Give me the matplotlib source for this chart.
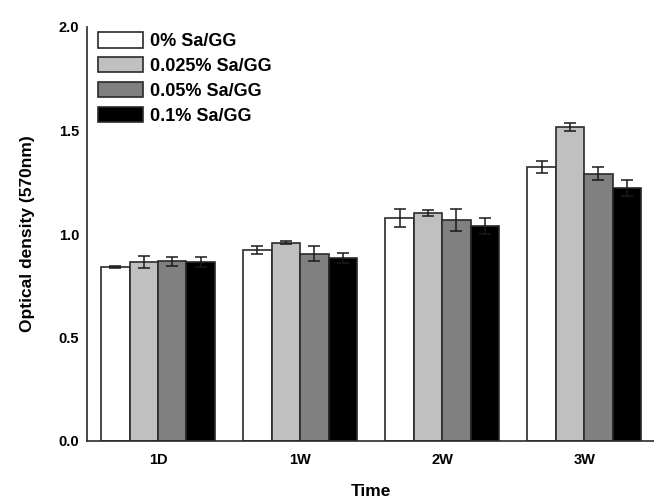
import numpy as np
import matplotlib
matplotlib.use("Agg")
import matplotlib.pyplot as plt

# ---------------------------------------------------
# DATA
# ---------------------------------------------------
time_points = ["1D", "1W", "2W", "3W"]
series_names = ["0% Sa/GG", "0.025% Sa/GG", "0.05% Sa/GG", "0.1% Sa/GG"]

od_0 = [0.84, 0.923, 1.077, 1.324]
od_0025 = [0.865, 0.958, 1.100, 1.517]
od_005 = [0.868, 0.905, 1.068, 1.292]
od_01 = [0.865, 0.884, 1.039, 1.222]

err_0 = [0.006, 0.020, 0.043, 0.030]
err_0025 = [0.027, 0.008, 0.015, 0.018]
err_005 = [0.022, 0.035, 0.053, 0.030]
err_01 = [0.025, 0.025, 0.039, 0.039]

bar_colors = ["#ffffff", "#c0c0c0", "#808080", "#000000"]

# ---------------------------------------------------
# PLOT
# ---------------------------------------------------
plt.rcParams["font.family"] = ["Liberation Sans", "DejaVu Sans"]
plt.rcParams["font.weight"] = "bold"

fig = plt.figure(figsize=(6.54, 5.0), dpi=100)
ax = fig.add_axes([0.133, 0.118, 0.869, 0.828])

values = [od_0, od_0025, od_005, od_01]
errors = [err_0, err_0025, err_005, err_01]

x = np.arange(len(time_points))
width = 0.2

for i, (vals, errs) in enumerate(zip(values, errors)):
    pos = x + (i - 1.5) * width
    ax.bar(
        pos,
        vals,
        width=width,
        color=bar_colors[i],
        edgecolor="#2a2a2a",
        linewidth=1.2,
        label=series_names[i],
        zorder=2
    )
    ax.errorbar(
        pos,
        vals,
        yerr=errs,
        fmt="none",
        ecolor="#1a1a1a",
        elinewidth=1.1,
        capsize=4,
        capthick=1.1,
        zorder=3
    )

ax.set_xlim(-0.5, 3.5)
ax.set_ylim(0, 2.0)
ax.set_xticks(x)
ax.set_xticklabels(time_points)
ax.set_yticks([0.0, 0.5, 1.0, 1.5, 2.0])
ax.set_yticklabels(["0.0", "0.5", "1.0", "1.5", "2.0"])
ax.tick_params(axis="x", length=0, labelsize=10.5, pad=9)
ax.tick_params(axis="y", length=0, labelsize=10.5, pad=5.5)
for lab in ax.get_xticklabels() + ax.get_yticklabels():
    lab.set_fontweight("bold")

for side in ["top", "right"]:
    ax.spines[side].set_visible(False)
for side in ["left", "bottom"]:
    ax.spines[side].set_linewidth(1.2)
    ax.spines[side].set_color("#2a2a2a")

ax.set_xlabel("Time", fontsize=12.5, fontweight="bold", labelpad=12)
ax.set_ylabel("Optical density (570nm)", fontsize=12.5, fontweight="bold", labelpad=17)

ax.legend(
    loc="upper left",
    bbox_to_anchor=(98 / 654, 1 - 32 / 500),
    bbox_transform=fig.transFigure,
    frameon=False,
    prop={"weight": "bold", "size": 13},
    handlelength=2.5,
    handleheight=0.95,
    handletextpad=0.4,
    labelspacing=0.38,
    borderpad=0,
    borderaxespad=0
)

plt.savefig("out.png", dpi=100)
plt.close()
